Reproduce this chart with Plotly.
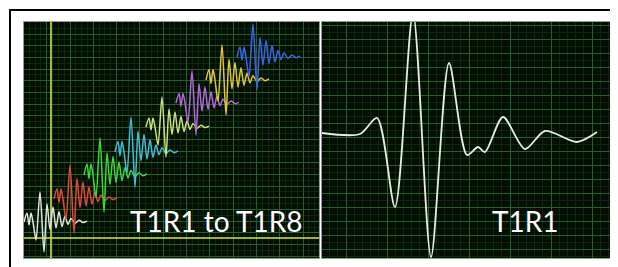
import plotly.graph_objects as go

# ---------------- data ----------------
# Left panel: eight received waveforms T1R1..T1R8, drawn from one normalised shape
wave_names = ["T1R1", "T1R2", "T1R3", "T1R4", "T1R5", "T1R6", "T1R7", "T1R8"]
wave_peak_t = [16, 46, 76, 107, 138, 168, 198, 229]      # time of main peak
wave_offset = [36, 59, 83, 106, 131, 155, 178, 201]      # vertical offset of trace
wave_amp = [30, 34, 37, 35, 30, 32, 35, 33]              # peak amplitude
wave_colors = ["#dfe8df", "#e04a3a", "#3ed83e", "#44bcd8",
               "#cde27a", "#b46ad8", "#e2c83c", "#3a66e6"]

shape_dt = [-16, -13, -11, -9, -7, -4, 0, 4, 7, 10, 13, 16, 19, 22, 25, 28, 31, 35, 39, 43, 47]
shape_a = [0, 0.3, -0.1, 0.3, 0.0, -0.6, 1.0, -1.0, 0.6, -0.25, 0.5, -0.2,
           0.35, -0.15, 0.2, -0.08, 0.12, -0.04, 0.06, -0.02, 0.03]

# Right panel: T1R1 enlarged
t1r1_t = [0, 38, 55, 73, 91, 109, 127, 145, 156, 163, 181, 203, 223, 255, 275]
t1r1_a = [0, -1, 15, -74, 120, -124, 70, -22, -14, -19, 16, -16, 2, -9, 1]

# reference (yellow) axes in the left panel
left_axis_t = 27
left_axis_a = 20

# ---------------- figure ----------------
# the page has an 8px body margin, so the figure is laid out in page px minus 8
OX, OY = 8, 8
W, H = 618 - OX, 267 - OY
LX = [0, 295]
LY = [0, 236]
RX = [0, 294]
RY = [-125, 111]

def px(x):
    return (x - OX) / W

def py(y):
    return (H - (y - OY)) / H

fig = go.Figure()

# yellow reference axes (under the waveforms)
fig.add_trace(go.Scatter(x=[left_axis_t, left_axis_t], y=LY, mode="lines",
                         line=dict(color="#d2e43a", width=1.6),
                         xaxis="x", yaxis="y", showlegend=False, hoverinfo="skip"))
fig.add_trace(go.Scatter(x=LX, y=[left_axis_a, left_axis_a], mode="lines",
                         line=dict(color="#d2e43a", width=1.6),
                         xaxis="x", yaxis="y", showlegend=False, hoverinfo="skip"))

for name, pt, off, amp, col in zip(wave_names, wave_peak_t, wave_offset, wave_amp, wave_colors):
    fig.add_trace(go.Scatter(
        x=[pt + d for d in shape_dt],
        y=[off + amp * a for a in shape_a],
        mode="lines", name=name,
        line=dict(color=col, width=1.5, shape="spline", smoothing=0.8),
        xaxis="x", yaxis="y", showlegend=False, hoverinfo="skip"))

fig.add_trace(go.Scatter(
    x=t1r1_t, y=t1r1_a, mode="lines", name="T1R1",
    line=dict(color="#e6eee2", width=1.8, shape="spline", smoothing=0.8),
    xaxis="x2", yaxis="y2", showlegend=False, hoverinfo="skip"))

bg = "#030e03"
major = "#25602a"
minor = "#0c280c"

def ax(domain, rng, tick0, dtick, mtick0, mdtick, anchor):
    return dict(domain=domain, range=rng, anchor=anchor, showticklabels=False, ticks="",
                zeroline=False, showgrid=True, gridcolor=major, gridwidth=1,
                tick0=tick0, dtick=dtick,
                minor=dict(showgrid=True, gridcolor=minor, gridwidth=1,
                           tick0=mtick0, dtick=mdtick),
                showline=True, linecolor="#9a9a9a", linewidth=1, mirror=True,
                fixedrange=True)

ydom = [py(258), py(22)]
fig.update_layout(
    width=W, height=H, margin=dict(l=0, r=0, t=0, b=0), autosize=False,
    paper_bgcolor="white", plot_bgcolor=bg,
    xaxis=ax([px(24), px(319)], LX, 22.7, 23.3, 22.7, 23.3 / 4, "y"),
    yaxis=ax(ydom, LY, 1.7, 11.7, 1.7, 11.7 / 2, "x"),
    xaxis2=ax([px(322), px(616)], RX, 24, 41, 24, 41 / 5, "y2"),
    yaxis2=ax(ydom, RY, 9 - 125, 14, 9 - 125, 7, "x2"),
)

fig.update_layout(shapes=[
    dict(type="rect", xref="paper", yref="paper", x0=px(10), x1=1.2,
         y0=-0.2, y1=py(10), line=dict(color="black", width=2),
         fillcolor="rgba(0,0,0,0)", layer="above"),
])

fig.add_annotation(text="T1R1 to T1R8", xref="paper", yref="paper",
                   x=px(304), y=py(221), xanchor="right", yanchor="middle",
                   showarrow=False, font=dict(family="Lato", size=28, color="white"))
fig.add_annotation(text="T1R1", xref="paper", yref="paper",
                   x=px(525), y=py(221), xanchor="center", yanchor="middle",
                   showarrow=False, font=dict(family="Lato", size=28, color="white"))

fig.write_html("out.html", config={"displayModeBar": False})
